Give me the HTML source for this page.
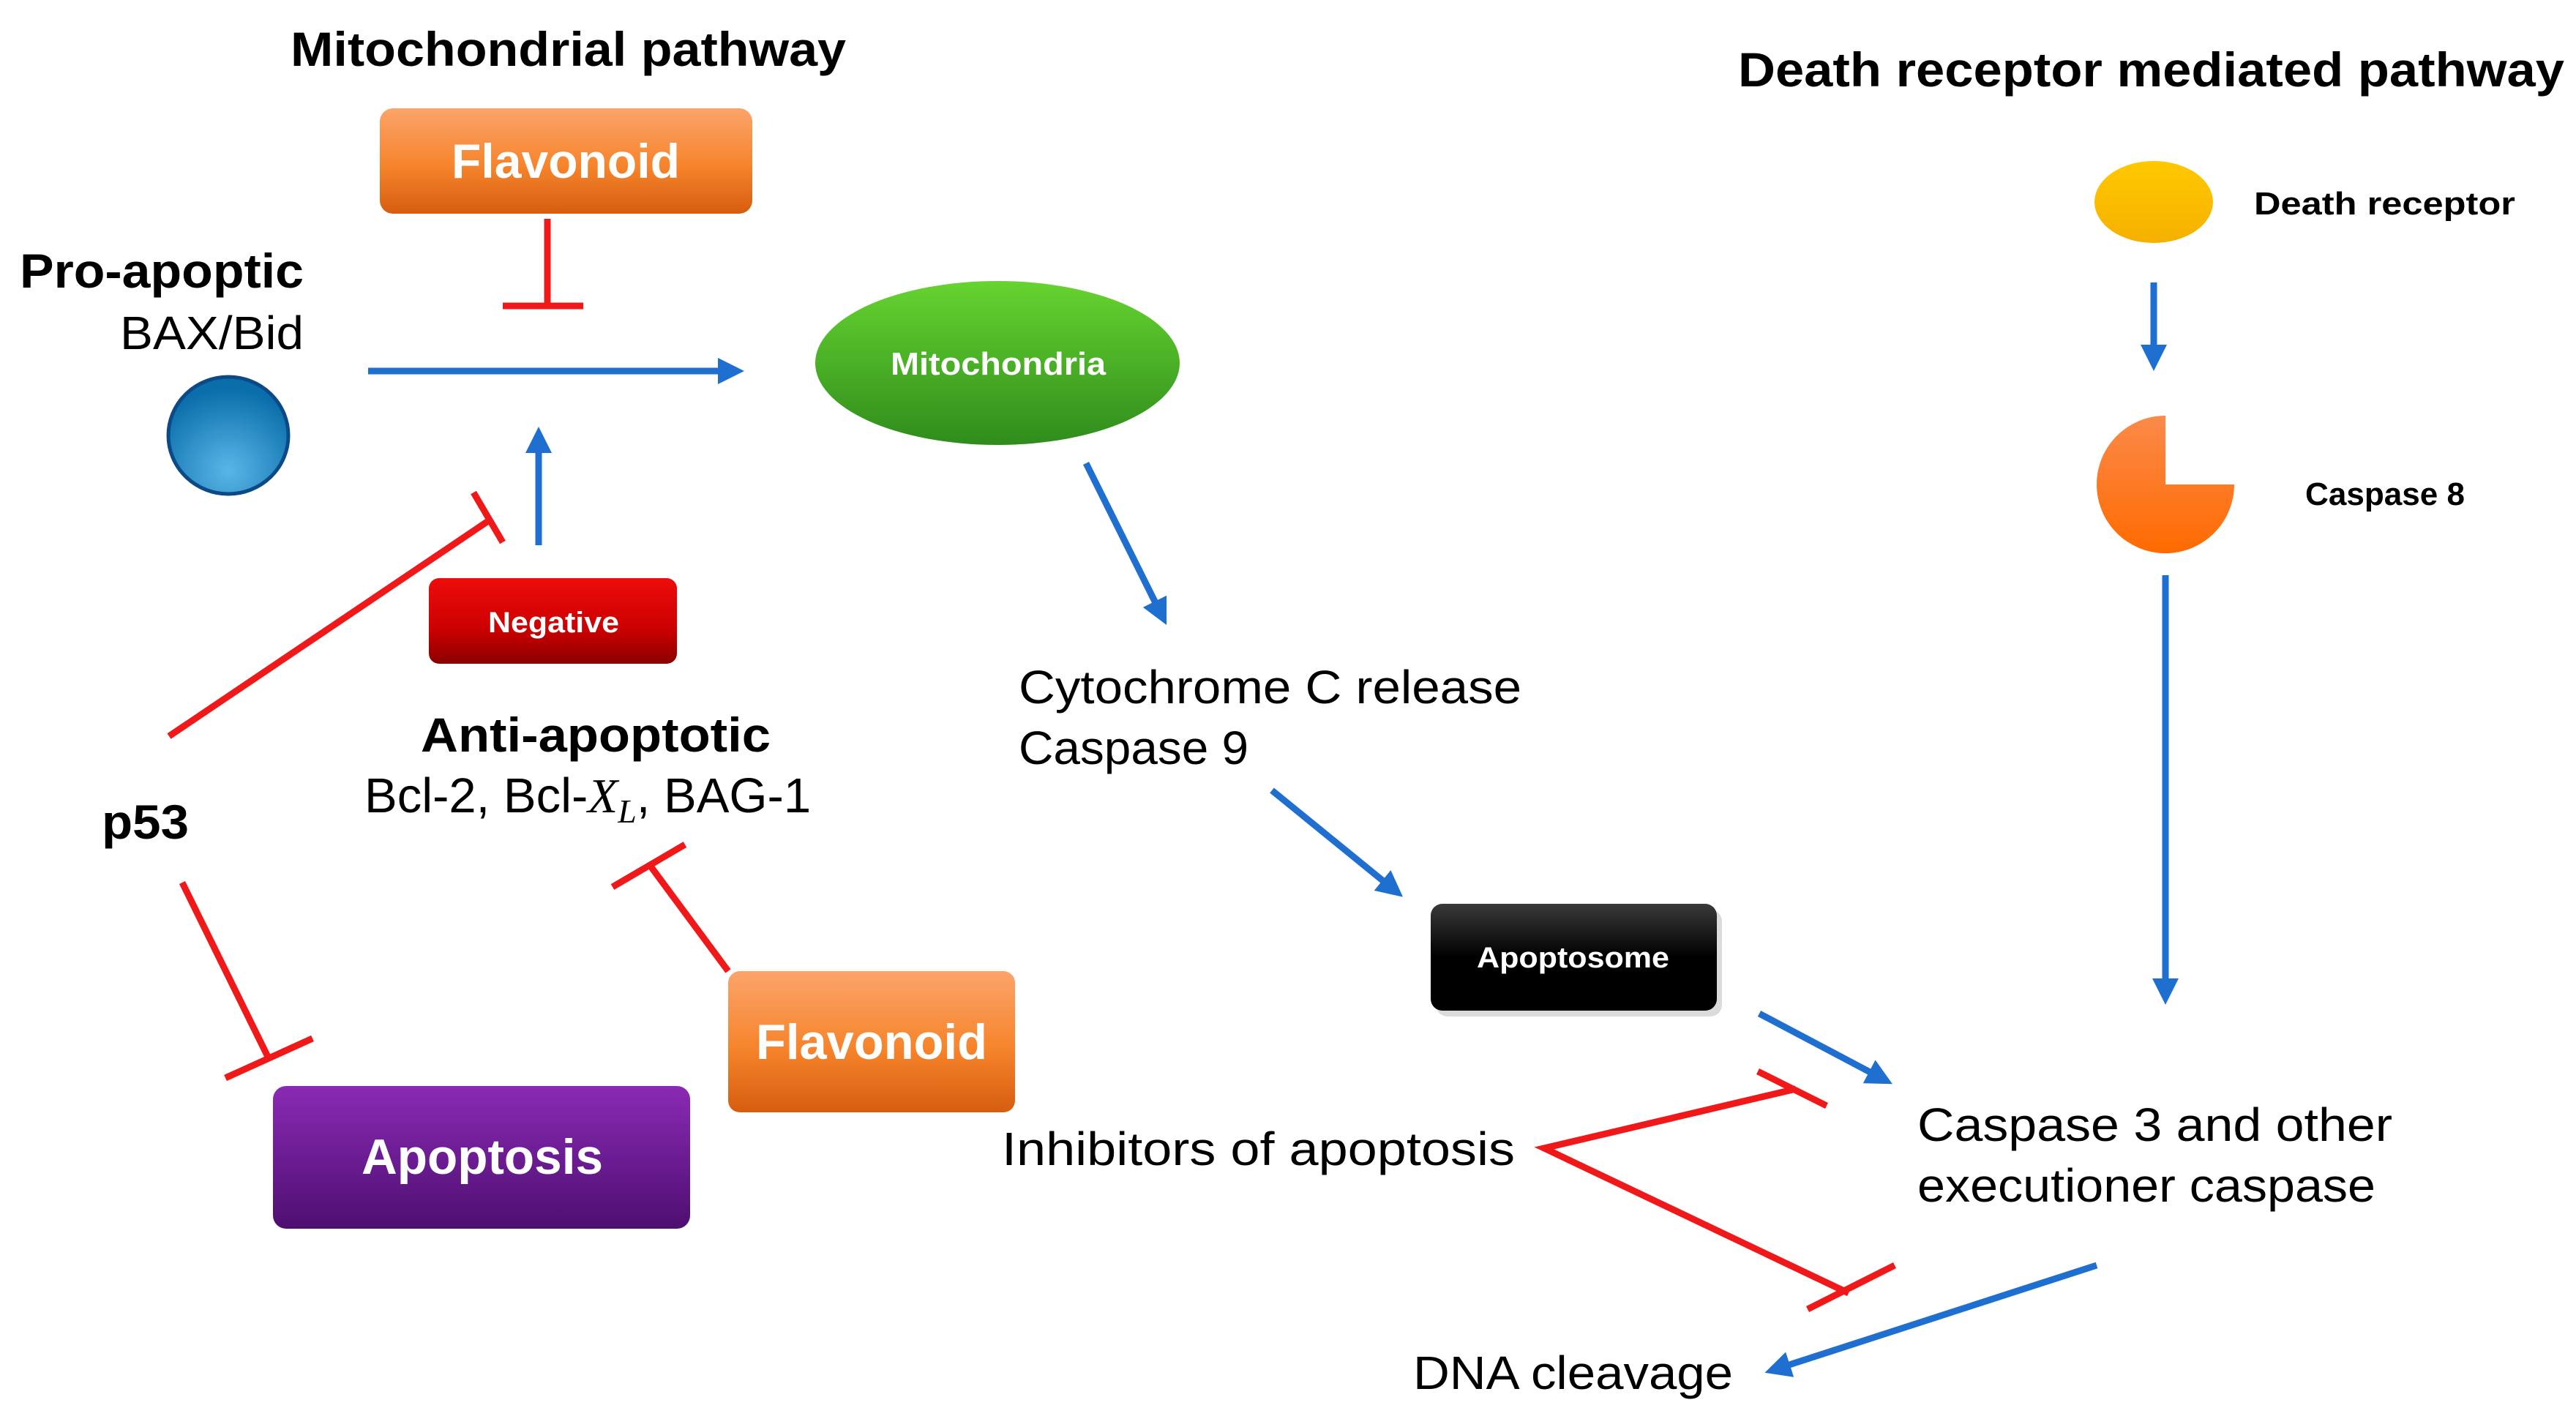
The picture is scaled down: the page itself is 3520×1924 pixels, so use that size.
<!DOCTYPE html>
<html><head><meta charset="utf-8"><style>
html,body{margin:0;padding:0;background:#fff;}
svg{display:block;}
text{font-family:"Liberation Sans",sans-serif;}
</style></head><body>
<svg width="3520" height="1924" viewBox="0 0 3520 1924" xmlns="http://www.w3.org/2000/svg">
<defs>
<linearGradient id="og" x1="0" y1="0" x2="0" y2="1"><stop offset="0" stop-color="#fba46a"/><stop offset="0.55" stop-color="#f6842c"/><stop offset="1" stop-color="#d65d0e"/></linearGradient>
<linearGradient id="rg" x1="0" y1="0" x2="0" y2="1"><stop offset="0" stop-color="#ee0c0c"/><stop offset="0.6" stop-color="#cc0000"/><stop offset="1" stop-color="#8a0000"/></linearGradient>
<linearGradient id="pg" x1="0" y1="0" x2="0" y2="1"><stop offset="0" stop-color="#8a2ab5"/><stop offset="1" stop-color="#4e0f70"/></linearGradient>
<linearGradient id="kg" x1="0" y1="0" x2="0" y2="1"><stop offset="0" stop-color="#3a3a3a"/><stop offset="0.5" stop-color="#000"/><stop offset="1" stop-color="#000"/></linearGradient>
<linearGradient id="gg" x1="0" y1="0" x2="0" y2="1"><stop offset="0" stop-color="#66d430"/><stop offset="1" stop-color="#2f8c1c"/></linearGradient>
<radialGradient id="bg" cx="0.5" cy="0.8" r="0.7"><stop offset="0" stop-color="#5ab6e8"/><stop offset="1" stop-color="#0a6eaa"/></radialGradient>
<linearGradient id="yg" x1="0" y1="0" x2="0" y2="1"><stop offset="0" stop-color="#ffc800"/><stop offset="1" stop-color="#f5b000"/></linearGradient>
<linearGradient id="cg" x1="0" y1="0" x2="0" y2="1"><stop offset="0" stop-color="#fb8a4a"/><stop offset="1" stop-color="#ff6a00"/></linearGradient>
<marker id="ah" markerWidth="4" markerHeight="4" refX="3" refY="2" orient="auto" markerUnits="strokeWidth"><path d="M0,0 L4,2 L0,4 Z" fill="#1f6fd0"/></marker>
</defs>

<text x="397" y="90" font-size="66" font-weight="bold" textLength="759" lengthAdjust="spacingAndGlyphs">Mitochondrial pathway</text>
<text x="2375" y="118" font-size="66" font-weight="bold" textLength="1129" lengthAdjust="spacingAndGlyphs">Death receptor mediated pathway</text>

<rect x="519" y="148" width="509" height="144" rx="18" fill="url(#og)"/>
<text x="617" y="243" font-size="66" font-weight="bold" fill="#fff" textLength="312" lengthAdjust="spacingAndGlyphs">Flavonoid</text>
<g stroke="#f01818" stroke-width="9" fill="none">
<line x1="748" y1="299" x2="748" y2="418"/>
<line x1="687" y1="418" x2="797" y2="418"/>
</g>

<text x="27" y="393" font-size="66" font-weight="bold" textLength="388" lengthAdjust="spacingAndGlyphs">Pro-apoptic</text>
<text x="164" y="477" font-size="64" textLength="251" lengthAdjust="spacingAndGlyphs">BAX/Bid</text>
<ellipse cx="312" cy="595" rx="82" ry="80" fill="url(#bg)" stroke="#0b4a86" stroke-width="5"/>

<g stroke="#1f6fd0" stroke-width="9" fill="none" marker-end="url(#ah)">
<line x1="503" y1="507" x2="1008" y2="507"/>
<line x1="736" y1="745" x2="736" y2="592"/>
<line x1="1484" y1="633" x2="1590" y2="846"/>
<line x1="1738" y1="1080" x2="1910" y2="1220"/>
<line x1="2404" y1="1385" x2="2578" y2="1477"/>
<line x1="2865" y1="1729" x2="2420" y2="1873"/>
<line x1="2943" y1="386" x2="2943" y2="498"/>
<line x1="2959" y1="786" x2="2959" y2="1364"/>
</g>

<ellipse cx="1363" cy="496" rx="249" ry="112" fill="url(#gg)"/>
<text x="1217" y="512" font-size="44" font-weight="bold" fill="#fff" textLength="294" lengthAdjust="spacingAndGlyphs">Mitochondria</text>

<g stroke="#f01818" stroke-width="9" fill="none">
<line x1="231" y1="1006" x2="667" y2="712"/>
<line x1="647" y1="673" x2="687" y2="741"/>
<line x1="249" y1="1206" x2="366" y2="1444"/>
<line x1="308" y1="1473" x2="427" y2="1419"/>
<line x1="995" y1="1327" x2="890" y2="1185"/>
<line x1="837" y1="1212" x2="936" y2="1154"/>
<polyline points="2454,1488 2110,1569 2526,1767"/>
<line x1="2402" y1="1464" x2="2496" y2="1511"/>
<line x1="2470" y1="1789" x2="2589" y2="1729"/>
</g>

<rect x="586" y="790" width="339" height="117" rx="14" fill="url(#rg)"/>
<text x="667" y="864" font-size="40" font-weight="bold" fill="#fff" textLength="179" lengthAdjust="spacingAndGlyphs">Negative</text>

<text x="575" y="1027" font-size="66" font-weight="bold" textLength="478" lengthAdjust="spacingAndGlyphs">Anti-apoptotic</text>
<text x="498" y="1110" font-size="67">Bcl-2, Bcl-<tspan font-family="Liberation Serif" font-style="italic">X</tspan><tspan font-family="Liberation Serif" font-style="italic" font-size="46" dy="14">L</tspan><tspan dy="-14">, BAG-1</tspan></text>

<text x="139" y="1146" font-size="66" font-weight="bold" textLength="119" lengthAdjust="spacingAndGlyphs">p53</text>

<rect x="373" y="1484" width="570" height="195" rx="18" fill="url(#pg)"/>
<text x="494" y="1604" font-size="68" font-weight="bold" fill="#fff" textLength="330" lengthAdjust="spacingAndGlyphs">Apoptosis</text>

<rect x="995" y="1327" width="392" height="193" rx="16" fill="url(#og)"/>
<text x="1033" y="1447" font-size="68" font-weight="bold" fill="#fff" textLength="316" lengthAdjust="spacingAndGlyphs">Flavonoid</text>

<text x="1392" y="961" font-size="64" textLength="687" lengthAdjust="spacingAndGlyphs">Cytochrome C release</text>
<text x="1392" y="1044" font-size="64" textLength="314" lengthAdjust="spacingAndGlyphs">Caspase 9</text>

<rect x="1962" y="1243" width="391" height="146" rx="16" fill="#999" opacity="0.35"/>
<rect x="1955" y="1235" width="391" height="146" rx="16" fill="url(#kg)"/>
<text x="2018" y="1322" font-size="40" font-weight="bold" fill="#fff" textLength="263" lengthAdjust="spacingAndGlyphs">Apoptosome</text>

<text x="2620" y="1559" font-size="64" textLength="649" lengthAdjust="spacingAndGlyphs">Caspase 3 and other</text>
<text x="2620" y="1642" font-size="64" textLength="626" lengthAdjust="spacingAndGlyphs">executioner caspase</text>

<text x="1369" y="1592" font-size="64" textLength="701" lengthAdjust="spacingAndGlyphs">Inhibitors of apoptosis</text>
<text x="1931" y="1898" font-size="64" textLength="437" lengthAdjust="spacingAndGlyphs">DNA cleavage</text>

<ellipse cx="2943" cy="276" rx="81" ry="56" fill="url(#yg)"/>
<text x="3080" y="293" font-size="44" font-weight="bold" textLength="357" lengthAdjust="spacingAndGlyphs">Death receptor</text>
<path d="M2959,568 A94,94 0 1,0 3053,662 L2959,662 Z" fill="url(#cg)"/>
<text x="3150" y="690" font-size="44" font-weight="bold" textLength="218" lengthAdjust="spacingAndGlyphs">Caspase 8</text>
</svg>
</body></html>
